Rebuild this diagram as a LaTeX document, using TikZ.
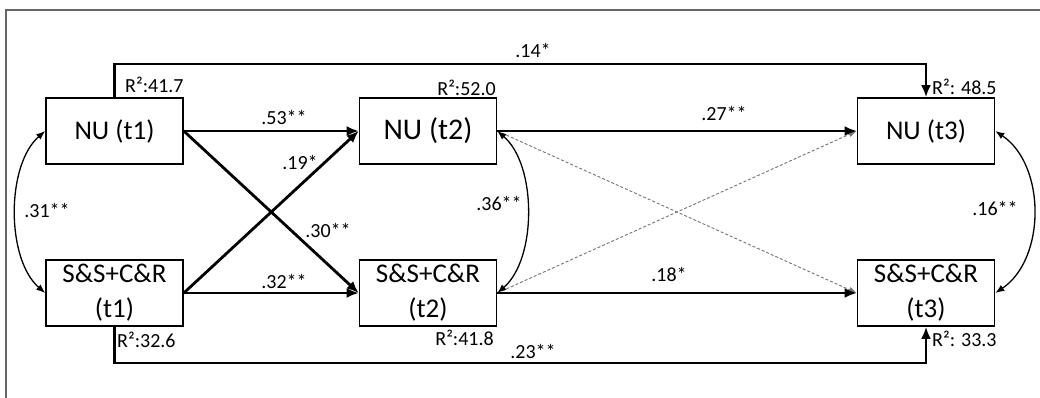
\documentclass[tikz,border=0pt]{standalone}
\usepackage{fontspec}
\setmainfont{Carlito}
\usetikzlibrary{arrows.meta}
\begin{document}
\begin{tikzpicture}[x=1pt,y=-1pt,
  var/.style={draw=black, line width=1.6pt, minimum width=137pt, minimum height=66pt,
    inner sep=0pt, align=center, font=\fontsize{27}{35}\selectfont},
  bigvar/.style={var, font=\fontsize{30}{35}\selectfont},
  pathline/.style={line width=2.8pt, -{Latex[length=12pt,width=10pt]}},
  covline/.style={line width=1.3pt, {Latex[length=9pt,width=7pt]}-{Latex[length=9pt,width=7pt]}},
  nsline/.style={draw=black!55, line width=0.9pt, dash pattern=on 3pt off 2pt,
    -{Latex[length=8pt,width=6pt]}},
  coef/.style={font=\fontsize{20}{24}\selectfont, inner sep=0pt},
  rsq/.style={font=\fontsize{20}{24}\selectfont, inner sep=0pt},
  frameline/.style={draw=black!60, line width=1.8pt}]
\useasboundingbox (0,0) rectangle (1040,397);

% open frame (top and left sides)
\draw[frameline] (6,400) -- (6,10) -- (1045,10);

% variables at three waves
\node[var] (n1) at (114.5,131) {NU (t1)};
\node[var] (s1) at (114.5,293) {S\&S+C\&R\\(t1)};
\node[bigvar] (n2) at (428,131) {NU (t2)};
\node[var] (s2) at (428,293) {S\&S+C\&R\\(t2)};
\node[var] (n3) at (926,131) {NU (t3)};
\node[var] (s3) at (926,293) {S\&S+C\&R\\(t3)};

% routing levels for the t1 -> t3 paths
\coordinate (top) at (0,64);
\coordinate (bot) at (0,363);

% non-significant cross-lagged paths t2 -> t3
\draw[nsline] (n2.east) -- (s3.west);
\draw[nsline] (s2.east) -- (n3.west);

% significant paths
\draw[pathline] (n1.east) -- (n2.west);
\draw[pathline] (s1.east) -- (s2.west);
\draw[pathline] (n1.east) -- (s2.west);
\draw[pathline] (s1.east) -- (n2.west);
\draw[pathline] (n2.east) -- (n3.west);
\draw[pathline] (s2.east) -- (s3.west);
\draw[pathline] (n1.north) -- (n1.north |- top) -- (n3.north |- top) -- (n3.north);
\draw[pathline] (s1.south) -- (s1.south |- bot) -- (s3.south |- bot) -- (s3.south);

% within-wave correlations
\draw[covline] (n1.west) .. controls (6,165) and (6,259) .. (s1.west);
\draw[covline] (n2.east) .. controls (537,165) and (537,259) .. (s2.east);
\draw[covline] (n3.east) .. controls (1046,165) and (1046,259) .. (s3.east);

% coefficients
\node[coef] (c14) at (533,50) {.14*};
\node[coef] (c23) at (533,351) {.23**};
\node[coef] (c53) at (284,117) {.53**};
\node[coef] (c19) at (300,162) {.19*};
\node[coef] (c30) at (328,230) {.30**};
\node[coef] (c32) at (284,281) {.32**};
\node[coef] (c27) at (724,113) {.27**};
\node[coef] (c18) at (669,274) {.18*};
\node[coef] (c31) at (47,210) {.31**};
\node[coef] (c36) at (499,203) {.36**};
\node[coef] (c16) at (995,208) {.16**};

% explained variance
\node[rsq, anchor=west] (r1) at (125,85) {R²:41.7};
\node[rsq, anchor=east] (r2) at (496,88) {R²:52.0};
\node[rsq, anchor=west] (r3) at (932,87) {R²: 48.5};
\node[rsq, anchor=west] (r4) at (117,340) {R²:32.6};
\node[rsq, anchor=east] (r5) at (494,338) {R²:41.8};
\node[rsq, anchor=west] (r6) at (932,339) {R²: 33.3};
\end{tikzpicture}
\end{document}
